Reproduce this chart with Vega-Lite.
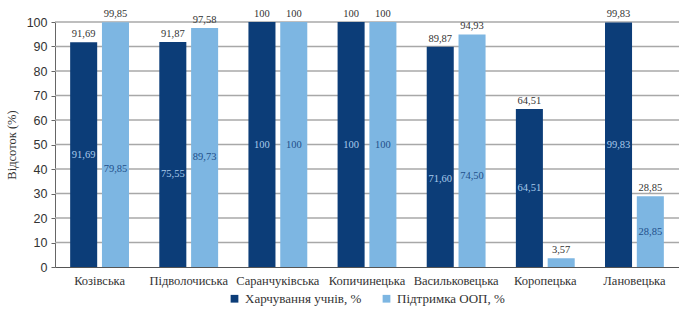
{
  "$schema": "https://vega.github.io/schema/vega-lite/v6.json",
  "width": 624,
  "height": 245,
  "autosize": {"type": "none"},
  "padding": {"left": 55, "top": 22, "right": 0, "bottom": 42},
  "background": "white",
  "datasets": {
    "bars": [
      {"district": "Козівська", "series": "Харчування учнів, %", "value": 91.69, "lbl": "91,69", "inner": 91.69, "innerLbl": "91,69"},
      {"district": "Козівська", "series": "Підтримка ООП, %", "value": 99.85, "lbl": "99,85", "inner": 79.85, "innerLbl": "79,85"},
      {"district": "Підволочиська", "series": "Харчування учнів, %", "value": 91.87, "lbl": "91,87", "inner": 75.55, "innerLbl": "75,55"},
      {"district": "Підволочиська", "series": "Підтримка ООП, %", "value": 97.58, "lbl": "97,58", "inner": 89.73, "innerLbl": "89,73"},
      {"district": "Саранчуківська", "series": "Харчування учнів, %", "value": 100, "lbl": "100", "inner": 100, "innerLbl": "100"},
      {"district": "Саранчуківська", "series": "Підтримка ООП, %", "value": 100, "lbl": "100", "inner": 100, "innerLbl": "100"},
      {"district": "Копичинецька", "series": "Харчування учнів, %", "value": 100, "lbl": "100", "inner": 100, "innerLbl": "100"},
      {"district": "Копичинецька", "series": "Підтримка ООП, %", "value": 100, "lbl": "100", "inner": 100, "innerLbl": "100"},
      {"district": "Васильковецька", "series": "Харчування учнів, %", "value": 89.87, "lbl": "89,87", "inner": 71.60, "innerLbl": "71,60"},
      {"district": "Васильковецька", "series": "Підтримка ООП, %", "value": 94.93, "lbl": "94,93", "inner": 74.50, "innerLbl": "74,50"},
      {"district": "Коропецька", "series": "Харчування учнів, %", "value": 64.51, "lbl": "64,51", "inner": 64.51, "innerLbl": "64,51"},
      {"district": "Коропецька", "series": "Підтримка ООП, %", "value": 3.57, "lbl": "3,57", "inner": null, "innerLbl": ""},
      {"district": "Лановецька", "series": "Харчування учнів, %", "value": 99.83, "lbl": "99,83", "inner": 99.83, "innerLbl": "99,83"},
      {"district": "Лановецька", "series": "Підтримка ООП, %", "value": 28.85, "lbl": "28,85", "inner": 28.85, "innerLbl": "28,85"}
    ],
    "grid": [
      {"g": 10}, {"g": 20}, {"g": 30}, {"g": 40}, {"g": 50},
      {"g": 60}, {"g": 70}, {"g": 80}, {"g": 90}, {"g": 100}
    ]
  },
  "layer": [
    {
      "data": {"name": "grid"},
      "mark": {"type": "rule", "color": "#a8a8a8", "strokeWidth": 1.3},
      "encoding": {
        "y": {"field": "g", "type": "quantitative", "title": "Відсоток (%)", "axis": {"grid": false, "tickCount": 10}}
      }
    },
    {
      "data": {"name": "bars"},
      "mark": {"type": "bar"},
      "encoding": {
        "x": {
          "field": "district",
          "type": "nominal",
          "sort": null,
          "scale": {"paddingInner": 0.34, "paddingOuter": 0.17},
          "axis": {
            "title": null,
            "labelAngle": 0,
            "ticks": false,
            "labelPadding": 7,
            "labelFontSize": 12.5,
            "labelColor": "#333333",
            "domainColor": "#555555",
            "labelFont": "Liberation Sans Narrow"
          }
        },
        "xOffset": {
          "field": "series",
          "type": "nominal",
          "sort": ["Харчування учнів, %", "Підтримка ООП, %"],
          "scale": {"paddingInner": 0.15, "paddingOuter": 0}
        },
        "y": {
          "field": "value",
          "type": "quantitative",
          "title": "Відсоток (%)",
          "scale": {"domain": [0, 100], "nice": false},
          "axis": {"grid": false, "tickCount": 10}
        },
        "color": {
          "field": "series",
          "type": "nominal",
          "sort": ["Харчування учнів, %", "Підтримка ООП, %"],
          "scale": {"domain": ["Харчування учнів, %", "Підтримка ООП, %"], "range": ["#0c3d78", "#7db6e2"]},
          "legend": {
            "title": null,
            "orient": "none",
            "legendX": 173,
            "legendY": 270,
            "direction": "horizontal",
            "symbolType": "square",
            "symbolSize": 60,
            "labelFontSize": 13,
            "labelFont": "Liberation Sans Narrow",
            "labelColor": "#333333",
            "columnPadding": 18
          }
        }
      }
    },
    {
      "data": {"name": "bars"},
      "mark": {"type": "text", "baseline": "bottom", "dy": -3, "fontSize": 10.5, "font": "Liberation Sans Narrow", "color": "#333333"},
      "encoding": {
        "x": {"field": "district", "type": "nominal", "sort": null},
        "xOffset": {"field": "series", "type": "nominal", "sort": ["Харчування учнів, %", "Підтримка ООП, %"]},
        "y": {"field": "value", "type": "quantitative", "title": "Відсоток (%)", "axis": {"grid": false, "tickCount": 10}},
        "text": {"field": "lbl"}
      }
    },
    {
      "data": {"name": "bars"},
      "transform": [{"filter": "datum.inner != null"}, {"calculate": "datum.inner / 2", "as": "mid"}],
      "mark": {"type": "text", "baseline": "middle", "fontSize": 10.5, "font": "Liberation Sans Narrow"},
      "encoding": {
        "x": {"field": "district", "type": "nominal", "sort": null},
        "xOffset": {"field": "series", "type": "nominal", "sort": ["Харчування учнів, %", "Підтримка ООП, %"]},
        "y": {"field": "mid", "type": "quantitative", "title": "Відсоток (%)", "axis": {"grid": false, "tickCount": 10}},
        "text": {"field": "innerLbl"},
        "color": {
          "condition": {"test": "datum.series === 'Харчування учнів, %'", "value": "#a9cbec"},
          "value": "#1f4f8a"
        }
      }
    }
  ],
  "config": {
    "view": {"stroke": null},
    "axisY": {
      "labelOverlap": false,
      "domain": true,
      "domainColor": "#666666",
      "tickColor": "#666666",
      "tickSize": 4,
      "labelFontSize": 12.5,
      "labelColor": "#333333",
      "labelFont": "Liberation Sans",
      "labelPadding": 4,
      "titleFont": "Liberation Sans Narrow",
      "titleFontSize": 12.5,
      "titleFontWeight": "normal",
      "titleColor": "#333333",
      "titlePadding": 8
    }
  }
}
